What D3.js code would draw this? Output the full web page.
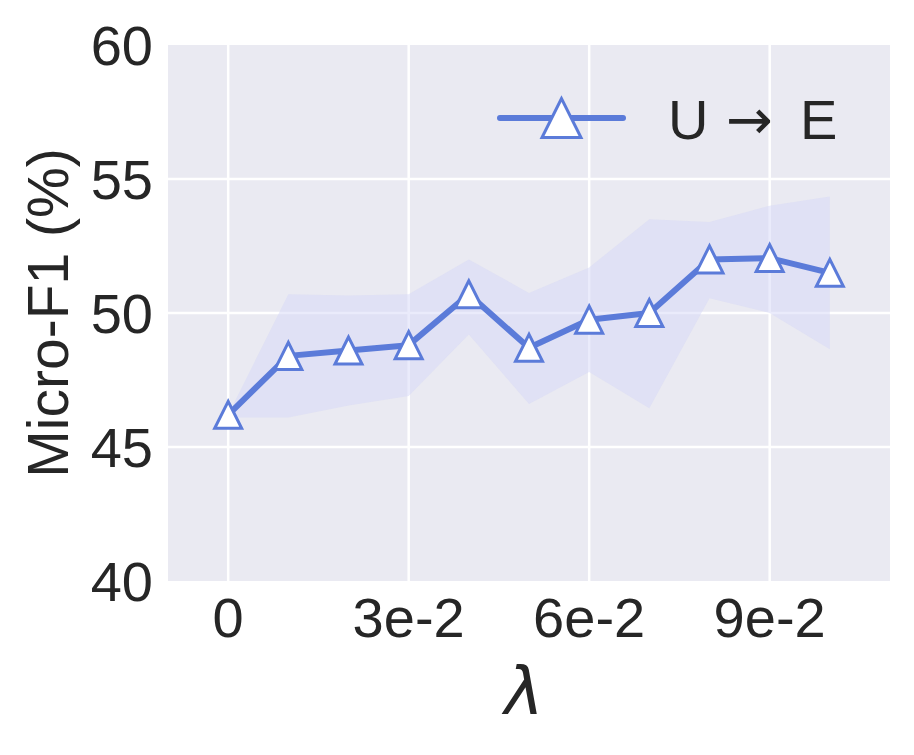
<!DOCTYPE html>
<html>
<head>
<meta charset="utf-8">
<script src="https://cdn.jsdelivr.net/npm/d3@7"></script>
<style>
  body { margin: 0; background: #ffffff; }
  svg text { font-family: "Liberation Sans", Arial, sans-serif; fill: #262626; }
</style>
</head>
<body>
<svg id="chart"></svg>
<script>
// lambda values on the x axis
const lambdas = [0, 0.01, 0.02, 0.03, 0.04, 0.05, 0.06, 0.07, 0.08, 0.09, 0.10];
// mean Micro-F1 (%) for U -> E
const meanF1 = [46.2, 48.4, 48.6, 48.8, 50.7, 48.7, 49.75, 50.0, 52.0, 52.05, 51.5];
// shaded band limits
const upperF1 = [46.2, 50.7, 50.65, 50.7, 52.0, 50.75, 51.7, 53.5, 53.4, 54.0, 54.35];
const lowerF1 = [46.1, 46.1, 46.55, 46.9, 49.2, 46.6, 47.8, 46.45, 50.55, 50.0, 48.65];

const xTicks = [0, 0.03, 0.06, 0.09];
const xTickLabels = ["0", "3e-2", "6e-2", "9e-2"];
const yTicks = [40, 45, 50, 55, 60];

const width = 914, height = 755;
const margin = {top: 45, right: 24, bottom: 174, left: 168};
const lineColor = "#5b7bd9";

const svg = d3.select("#chart")
    .attr("width", width)
    .attr("height", height);

const x = d3.scaleLinear()
    .domain([-0.01, 0.11])
    .range([margin.left, width - margin.right]);

const y = d3.scaleLinear()
    .domain([40, 60])
    .range([height - margin.bottom, margin.top]);

// plot background
svg.append("rect")
    .attr("x", x(-0.01))
    .attr("y", y(60))
    .attr("width", x(0.11) - x(-0.01))
    .attr("height", y(40) - y(60))
    .attr("fill", "#eaeaf2");

// grid lines
svg.append("g")
    .selectAll("line.vgrid")
    .data(xTicks)
    .enter()
    .append("line")
    .attr("x1", d => x(d))
    .attr("x2", d => x(d))
    .attr("y1", y(40))
    .attr("y2", y(60))
    .attr("stroke", "#ffffff")
    .attr("stroke-width", 2.5);

svg.append("g")
    .selectAll("line.hgrid")
    .data(yTicks.slice(1, -1))
    .enter()
    .append("line")
    .attr("x1", x(-0.01))
    .attr("x2", x(0.11))
    .attr("y1", d => y(d))
    .attr("y2", d => y(d))
    .attr("stroke", "#ffffff")
    .attr("stroke-width", 2.5);

// band
const band = d3.area()
    .x((d, i) => x(lambdas[i]))
    .y0((d, i) => y(lowerF1[i]))
    .y1((d, i) => y(upperF1[i]));

svg.append("path")
    .datum(lambdas)
    .attr("d", band)
    .attr("fill", "#d6d8f8")
    .attr("fill-opacity", 0.5);

// mean line
const line = d3.line()
    .x((d, i) => x(lambdas[i]))
    .y(d => y(d));

svg.append("path")
    .datum(meanF1)
    .attr("d", line)
    .attr("fill", "none")
    .attr("stroke", lineColor)
    .attr("stroke-width", 6)
    .attr("stroke-linejoin", "round");

// triangle markers
function triangle(s){
    return `M0,${-s} L${-s},${s} L${s},${s} Z`;
}

svg.append("g")
    .selectAll("path")
    .data(meanF1)
    .enter()
    .append("path")
    .attr("transform", (d, i) => `translate(${x(lambdas[i])}, ${y(d)})`)
    .attr("d", triangle(13.5))
    .attr("fill", "#ffffff")
    .attr("stroke", lineColor)
    .attr("stroke-width", 3);

// y tick labels
svg.append("g")
    .selectAll("text")
    .data(yTicks)
    .enter()
    .append("text")
    .attr("x", margin.left - 15)
    .attr("y", d => y(d) + 20)
    .attr("text-anchor", "end")
    .attr("font-size", 56)
    .text(d => d);

// x tick labels
svg.append("g")
    .selectAll("text")
    .data(xTicks)
    .enter()
    .append("text")
    .attr("x", d => x(d))
    .attr("y", y(40) + 56)
    .attr("text-anchor", "middle")
    .attr("font-size", 56)
    .text((d, i) => xTickLabels[i]);

// axis titles
svg.append("text")
    .attr("x", (x(-0.01) + x(0.11)) / 2 - 5)
    .attr("y", 714)
    .attr("text-anchor", "middle")
    .attr("font-size", 66)
    .style("font-family", "'DejaVu Sans', sans-serif")
    .style("font-style", "italic")
    .text("\u03bb");

svg.append("text")
    .attr("transform", `translate(68, ${y(50)}) rotate(-90)`)
    .attr("text-anchor", "middle")
    .attr("font-size", 57)
    .text("Micro-F1 (%)");

// legend
const legend = svg.append("g").attr("transform", "translate(500, 118)");

legend.append("line")
    .attr("x1", 0)
    .attr("x2", 123)
    .attr("y1", 0)
    .attr("y2", 0)
    .attr("stroke", lineColor)
    .attr("stroke-width", 6)
    .attr("stroke-linecap", "round");

legend.append("path")
    .attr("transform", "translate(61.5, 0)")
    .attr("d", triangle(19.5))
    .attr("fill", "#ffffff")
    .attr("stroke", lineColor)
    .attr("stroke-width", 3);

const legendText = legend.append("text")
    .attr("x", 168)
    .attr("y", 21)
    .attr("font-size", 56);

legendText.append("tspan").text("U");
legendText.append("tspan")
    .attr("x", 226)
    .attr("font-size", 56)
    .style("font-family", "'DejaVu Sans', sans-serif")
    .text("\u2192");
legendText.append("tspan")
    .attr("x", 300)
    .text("E");
</script>
</body>
</html>
